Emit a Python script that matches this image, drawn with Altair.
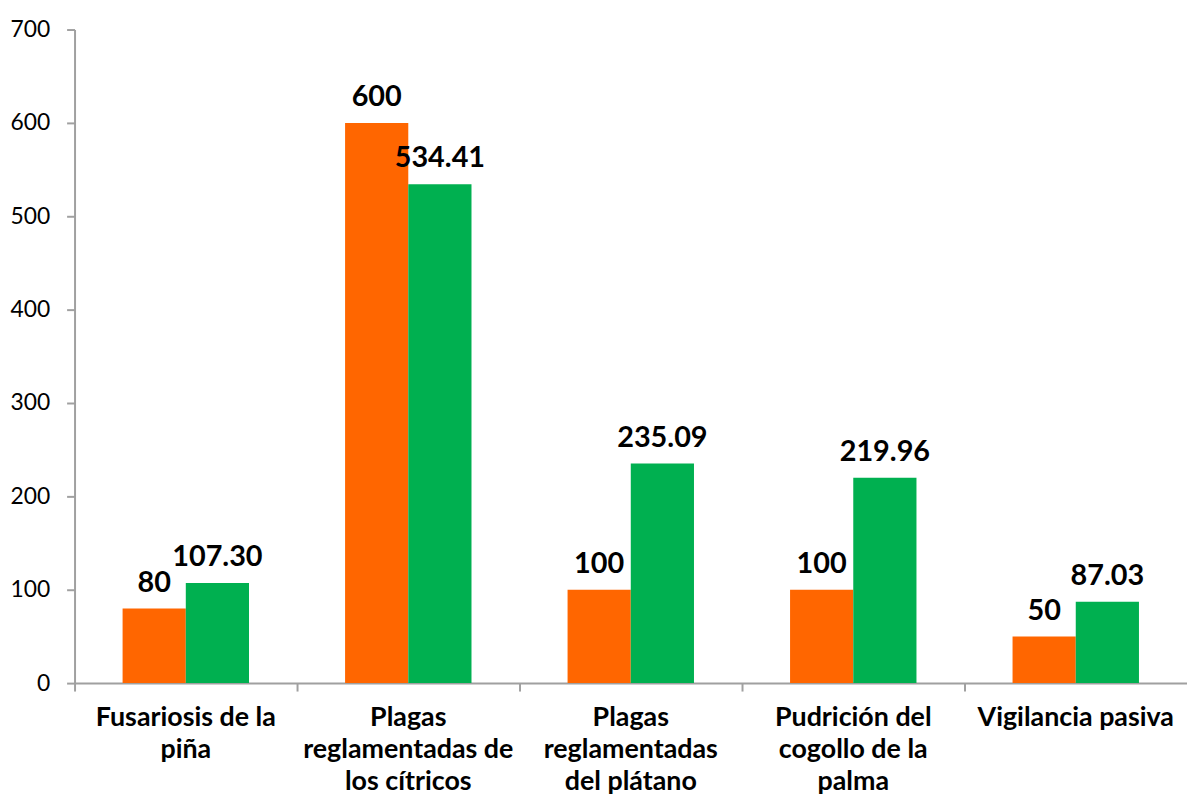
import altair as alt
import pandas as pd

categories = ["Fusariosis de la piña", "Plagas reglamentadas de los cítricos",
              "Plagas reglamentadas del plátano", "Pudrición del cogollo de la palma",
              "Vigilancia pasiva"]
label_lines = [["Fusariosis de la", "piña"],
               ["Plagas", "reglamentadas de", "los cítricos"],
               ["Plagas", "reglamentadas", "del plátano"],
               ["Pudrición del", "cogollo de la", "palma"],
               ["Vigilancia pasiva"]]
series = ["Meta", "Ejecutado"]
meta = [80, 600, 100, 100, 50]
ejecutado = [107.30, 534.41, 235.09, 219.96, 87.03]
meta_labels = ["80", "600", "100", "100", "50"]
ejec_labels = ["107.30", "534.41", "235.09", "219.96", "87.03"]
colors = ["#FF6600", "#00B050"]

rows = []
for i, c in enumerate(categories):
    rows.append({"cat": c, "serie": series[0], "value": meta[i], "label": meta_labels[i]})
    rows.append({"cat": c, "serie": series[1], "value": ejecutado[i], "label": ejec_labels[i]})
df = pd.DataFrame(rows)

expr = "datum.label"
for c, lines in reversed(list(zip(categories, label_lines))):
    arr = "[" + ",".join("'" + l + "'" for l in lines) + "]"
    expr = f"datum.label == '{c}' ? {arr} : ({expr})"

FONT = "Lato"

xscale = alt.Scale(domain=categories, paddingInner=0, paddingOuter=0)
yscale = alt.Scale(domain=[0, 700], nice=False)
offscale = alt.Scale(domain=series, paddingOuter=0.76, paddingInner=0)

base = alt.Chart(df)

bars = base.mark_bar().encode(
    x=alt.X("cat:N", scale=xscale, sort=categories, title=None,
            axis=alt.Axis(orient="bottom", labelAngle=0, ticks=False, domain=False, labelExpr=expr,
                          labelFont=FONT, labelFontWeight="bold", labelFontSize=27,
                          labelColor="#000000", labelLineHeight=32, labelPadding=22,
                          labelBaseline="top", labelLimit=400)),
    xOffset=alt.XOffset("serie:N", scale=offscale, sort=series),
    y=alt.Y("value:Q", scale=yscale, title=None,
            axis=alt.Axis(values=[0, 100, 200, 300, 400, 500, 600, 700], grid=False,
                          domainColor="#A0A0A0", domainWidth=2, tickColor="#A0A0A0",
                          tickWidth=2, tickSize=8, labelFont=FONT, labelFontSize=23,
                          labelColor="#000000", labelPadding=17)),
    color=alt.Color("serie:N", scale=alt.Scale(domain=series, range=colors), legend=None),
)

text = base.mark_text(baseline="alphabetic", dy=-17, font=FONT, fontWeight="bold",
                      fontSize=29, color="#000000").encode(
    x=alt.X("cat:N", scale=xscale, sort=categories, title=None,
            axis=alt.Axis(orient="bottom", labels=False, bandPosition=0, domainColor="#A0A0A0",
                          domainWidth=2, tickColor="#A0A0A0", tickWidth=2, tickSize=8)),
    xOffset=alt.XOffset("serie:N", scale=offscale, sort=series),
    y=alt.Y("value:Q", scale=yscale),
    text="label:N",
)

chart = alt.layer(bars, text).resolve_axis(x="independent").properties(
    width=1120, height=658,
    autosize=alt.AutoSizeParams(type="none"),
    padding={"left": 67, "top": 19, "right": 0, "bottom": 114},
).configure_view(stroke=None)

chart.save("out.html", embed_options={"renderer": "svg", "actions": False})
